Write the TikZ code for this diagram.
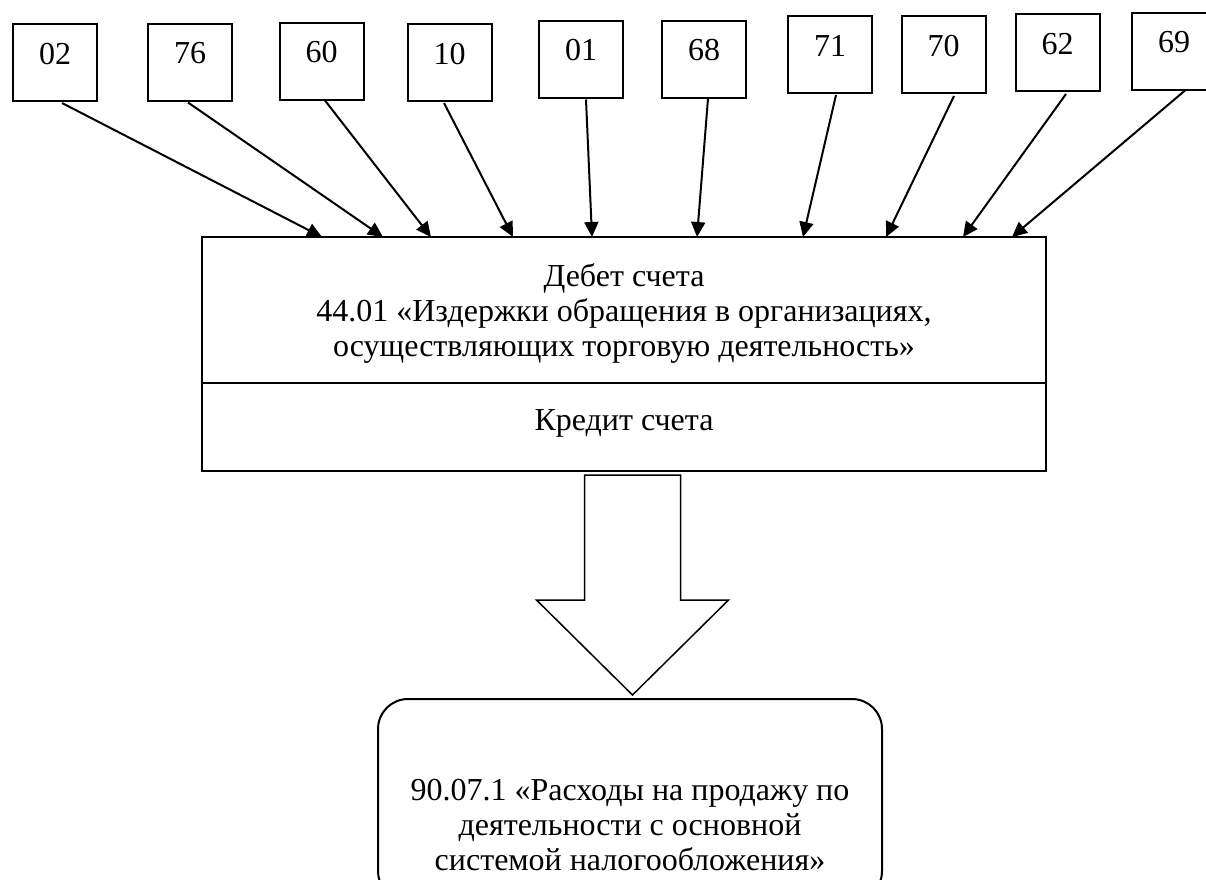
\documentclass[tikz,border=0pt]{standalone}
\usepackage{fontspec}
\setmainfont{Liberation Serif}
\usetikzlibrary{arrows.meta}
\begin{document}
\begin{tikzpicture}[x=1pt,y=-1pt,
  every node/.style={inner sep=0pt,outer sep=0pt},
  txt/.style={font=\fontsize{32}{35}\selectfont},
  acc/.style={draw,line width=2pt,minimum width=84pt,minimum height=77pt},
  lbl/.style={txt,anchor=center,yshift=-30pt},
  inner/.style={txt,align=center,anchor=center},
  bigbox/.style={draw,line width=2pt,minimum width=844pt},
  conn/.style={line width=2pt,-{Triangle[length=15pt,width=14pt]}},
  blockarrow/.style={draw,line width=1.5pt,fill=white,line join=miter},
  roundbox/.style={draw,line width=2pt,rounded corners=30pt,minimum width=504pt,minimum height=202pt}]
\useasboundingbox (0,0) rectangle (1206,879);
% account boxes
\node[acc,label={[lbl]north:02}] (b02) at (55,62.5) {};
\node[acc,label={[lbl]north:76}] (b76) at (190,62) {};
\node[acc,label={[lbl]north:60}] (b60) at (321.5,61) {};
\node[acc,label={[lbl]north:10}] (b10) at (449.5,62.5) {};
\node[acc,label={[lbl]north:01}] (b01) at (581,59) {};
\node[acc,label={[lbl]north:68}] (b68) at (704,59) {};
\node[acc,label={[lbl]north:71}] (b71) at (830,54.5) {};
\node[acc,label={[lbl]north:70}] (b70) at (943.5,54.5) {};
\node[acc,label={[lbl]north:62}] (b62) at (1057.5,52.5) {};
\node[acc,label={[lbl]north:69}] (b69) at (1174,51) {};
% main account box
\node[bigbox,minimum height=146pt,
  label={[inner,yshift=-3pt]center:Дебет счета\\44.01 «Издержки обращения в организациях,\\осуществляющих торговую деятельность»}] (debit) at (624,310) {};
\node[bigbox,minimum height=88pt,
  label={[inner,yshift=4pt]center:Кредит счета}] (credit) at (624,427) {};
% connectors
\draw[conn] ([xshift=7pt,yshift=-2pt]b02.south) -- ([xshift=120pt]debit.north west);
\draw[conn] ([xshift=-2pt,yshift=-2pt]b76.south) -- ([xshift=181pt]debit.north west);
\draw[conn] ([xshift=3.5pt,yshift=-1pt]b60.south) -- ([xshift=229pt]debit.north west);
\draw[conn] ([xshift=-5.5pt,yshift=-2pt]b10.south) -- ([xshift=311pt]debit.north west);
\draw[conn] ([xshift=5pt,yshift=-2pt]b01.south) -- ([xshift=390pt]debit.north west);
\draw[conn] ([xshift=4pt,yshift=-1pt]b68.south) -- ([xshift=495pt]debit.north west);
\draw[conn] ([xshift=6pt,yshift=-2pt]b71.south) -- ([xshift=601pt]debit.north west);
\draw[conn] ([xshift=10.5pt,yshift=-3pt]b70.south) -- ([xshift=684pt]debit.north west);
\draw[conn] ([xshift=8.5pt,yshift=-3pt]b62.south) -- ([xshift=761pt]debit.north west);
\draw[conn] ([xshift=11pt,yshift=-1pt]b69.south) -- ([xshift=810pt]debit.north west);
% target
\node[roundbox,
  label={[inner,yshift=-25pt]center:90.07.1 «Расходы на продажу по\\деятельности с основной\\системой налогообложения»}] (target) at (630,800) {};
% block arrow
\draw[blockarrow] (584.5,475) -- (680.5,475) -- (680.5,600) -- (728.5,600) -- (632.5,695) -- (536.5,600) -- (584.5,600) -- cycle;
\end{tikzpicture}
\end{document}
